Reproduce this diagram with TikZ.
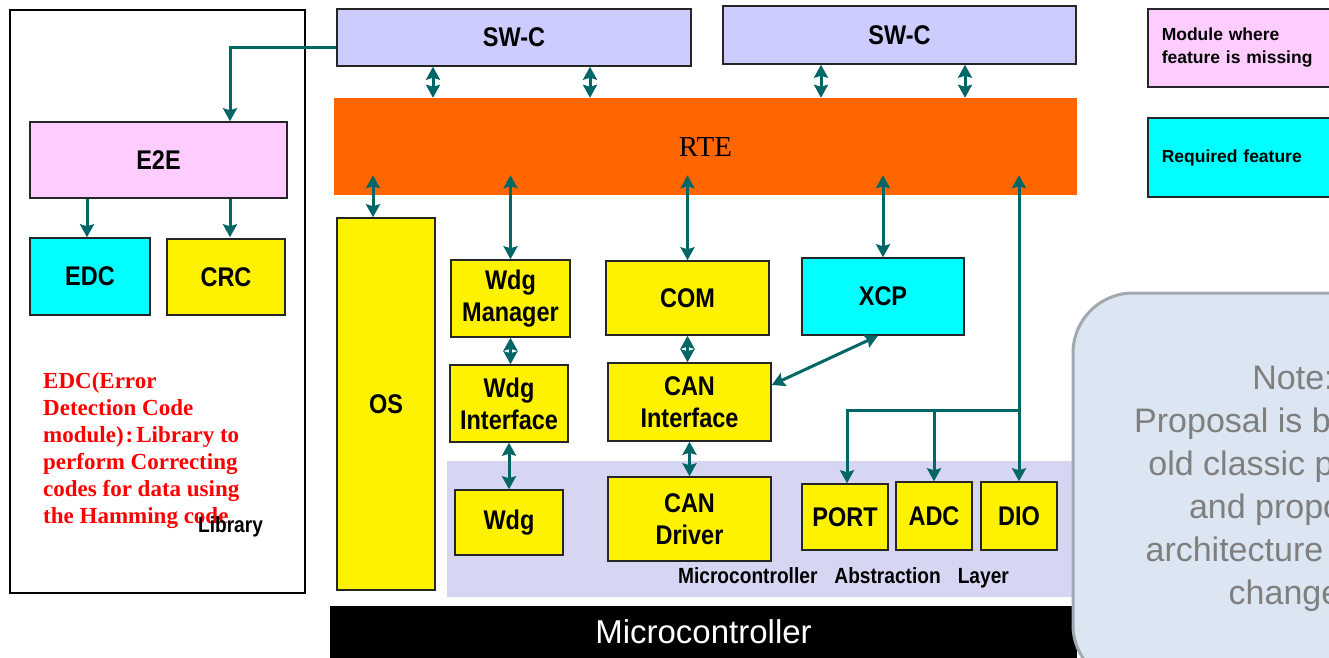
\documentclass[tikz,border=0pt]{standalone}
\usepackage{fontspec}
\setmainfont{Liberation Sans}
\newfontfamily\kastenfont{Liberation Sans}[FakeStretch=0.87]
\newfontfamily\seriffont{Liberation Serif}
\usetikzlibrary{arrows.meta}

\definecolor{swcblau}{RGB}{204,204,255}
\definecolor{rteorange}{RGB}{255,102,0}
\definecolor{e2erosa}{RGB}{255,204,255}
\definecolor{tuerkisfarbe}{RGB}{0,255,255}
\definecolor{mcalblau}{RGB}{214,214,242}
\definecolor{pfeilgruen}{RGB}{0,102,102}
\definecolor{notizfill}{RGB}{220,230,242}
\definecolor{notizrand}{RGB}{160,168,176}
\definecolor{notiztext}{RGB}{127,127,127}

\begin{document}
\begin{tikzpicture}[
  x={(1pt,0pt)}, y={(0pt,-1pt)},
  kasten/.style={draw=black!85, line width=1.5pt, inner sep=0pt, align=center,
    font=\kastenfont\bfseries\fontsize{27}{32}\selectfont},
  gelb/.style={kasten, fill=yellow},
  tuerkis/.style={kasten, fill=tuerkisfarbe},
  pfeil/.style={draw=pfeilgruen, line width=3pt,
    -{Stealth[length=13pt,width=14pt,inset=2pt]}},
  dpfeil/.style={pfeil,
    {Stealth[length=13pt,width=14pt,inset=2pt]}-{Stealth[length=13pt,width=14pt,inset=2pt]}}
]

\clip (0,0) rectangle (1329,657);
\useasboundingbox (0,0) rectangle (1329,657);

% Bibliothek
\node[draw=black, line width=2pt, minimum width=295pt, minimum height=583pt] (lib) at (157.5,301.5) {};
\node[kasten, fill=e2erosa, minimum width=257pt, minimum height=76pt] (e2e) at (158.5,160) {E2E};
\node[tuerkis, minimum width=120pt, minimum height=77pt] (edc) at (90,276.5) {EDC};
\node[gelb, minimum width=118pt, minimum height=76pt] (crc) at (226,277) {CRC};
\node[anchor=north west, align=left, inner sep=0pt, text=red,
  font=\seriffont\bfseries\fontsize{23}{27}\selectfont] (edctext) at (43,372)
  {EDC(Error\\Detection Code\\module)\hspace{2pt}:\hspace{3pt}Library to\\perform Correcting\\codes for data using\\the Hamming code};
\node[font=\kastenfont\bfseries\fontsize{22}{26}\selectfont] (libtext) at (230.5,527) {Library};

% SW-C und RTE
\node[kasten, fill=swcblau, minimum width=354pt, minimum height=57pt] (swcA) at (514,37.5) {SW-C};
\node[kasten, fill=swcblau, minimum width=353pt, minimum height=58pt] (swcB) at (899.5,35) {SW-C};
\node[fill=rteorange, minimum width=743pt, minimum height=97pt,
  font=\seriffont\fontsize{29}{32}\selectfont] (rte) at (705.5,146.5) {RTE};
\coordinate (rtein) at ([yshift=20pt]rte.south);

% Microcontroller Abstraction Layer
\node[fill=mcalblau, minimum width=625pt, minimum height=136pt] (mcal) at (759.5,529) {};
\node[font=\kastenfont\bfseries\fontsize{22}{26}\selectfont] (mcaltext) at (843.5,578)
  {Microcontroller\hspace{17pt}Abstraction\hspace{17pt}Layer};

% Basissoftware
\node[gelb, minimum width=98pt, minimum height=372pt] (os) at (386,404) {OS};
\node[gelb, minimum width=119pt, minimum height=77pt] (wdgm) at (510.5,298.5) {Wdg\\Manager};
\node[gelb, minimum width=163pt, minimum height=74pt] (com) at (687.5,298) {COM};
\node[tuerkis, minimum width=162pt, minimum height=77pt] (xcp) at (883,296.5) {XCP};
\node[gelb, minimum width=118pt, minimum height=77pt] (wdgi) at (509,403.5) {Wdg\\Interface};
\node[gelb, minimum width=163pt, minimum height=78pt] (canif) at (689.5,402) {CAN\\Interface};
\node[gelb, minimum width=108pt, minimum height=65pt] (wdg) at (509,522.5) {Wdg};
\node[gelb, minimum width=163pt, minimum height=84pt] (candrv) at (689.5,519) {CAN\\Driver};
\node[gelb, minimum width=86pt, minimum height=66pt] (port) at (845,517) {PORT};
\node[gelb, minimum width=76pt, minimum height=68pt] (adc) at (934,516) {ADC};
\node[gelb, minimum width=76pt, minimum height=68pt] (dio) at (1019,516) {DIO};

% Microcontroller
\node[fill=black, text=white, minimum width=747pt, minimum height=52pt,
  font=\fontsize{33}{36}\selectfont] (mc) at (703.5,632) {Microcontroller};

% Legende
\node[kasten, fill=e2erosa, anchor=west, minimum height=78pt, text width=172pt, inner xsep=14pt,
  align=left, font=\bfseries\fontsize{17.5}{23}\selectfont] (leg1) at (1147,48) {Module where\\feature is missing};
\node[tuerkis, anchor=west, minimum height=79pt, text width=172pt, inner xsep=14pt,
  align=left, font=\bfseries\fontsize{17.5}{23}\selectfont] (leg2) at (1147,157.5) {Required feature};

% Notiz
\node[draw=notizrand, line width=3pt, fill=notizfill, rounded corners=60pt,
  minimum width=440pt, minimum height=392pt, align=center, text=notiztext,
  font=\fontsize{34}{43}\selectfont] (notiz) at (1293,489)
  {Note:\\Proposal is based on\\old classic platform\\and proposed\\architecture without\\changes};

% Verbindungen
\draw[pfeil] (swcA.west |- 0,47) -| (230,0 |- e2e.north);
\foreach \x in {87,230}
  \draw[pfeil] (\x,0 |- e2e.south) -- (\x,0 |- edc.north);
\foreach \x in {433,590}
  \draw[dpfeil] (\x,0 |- swcA.south) -- (\x,0 |- rte.north);
\foreach \x in {821,965}
  \draw[dpfeil] (\x,0 |- swcB.south) -- (\x,0 |- rte.north);
\draw[dpfeil] (373,0 |- rtein) -- (373,0 |- os.north);
\foreach \n in {wdgm,com,xcp}
  \draw[dpfeil] (\n.north |- rtein) -- (\n.north);
\draw[dpfeil] (wdgm.south) -- (wdgm.south |- wdgi.north);
\draw[dpfeil] (wdgi.south) -- (wdgi.south |- wdg.north);
\draw[dpfeil] (com.south) -- (com.south |- canif.north);
\draw[dpfeil] (canif.south) -- (canif.south |- candrv.north);
\draw[dpfeil] ([xshift=-5pt]xcp.south) -- ([yshift=17pt]canif.east);
\draw[dpfeil] (dio.north |- rtein) -- (dio.north);
\coordinate (abzweig) at (dio.north |- 0,410);
\draw[pfeil] (abzweig) -| (847,0 |- port.north);
\draw[pfeil] (adc.north |- abzweig) -- (adc.north);

\end{tikzpicture}
\end{document}
